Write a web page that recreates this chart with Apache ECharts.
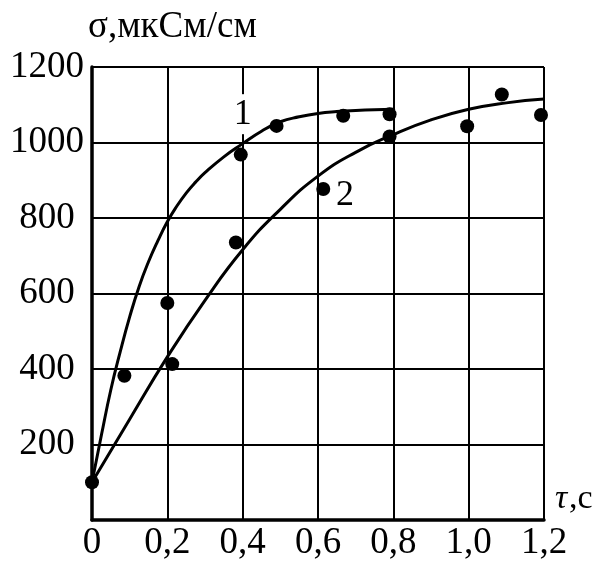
<!DOCTYPE html>
<html>
<head>
<meta charset="utf-8">
<script src="https://cdn.jsdelivr.net/npm/echarts@6/dist/echarts.min.js"></script>
<style>html,body{margin:0;padding:0;background:#fff}#c{width:598px;height:564px}</style>
</head>
<body>
<div id="c"></div>
<script>
// Curve 1
const curve1T = [0, 0.025, 0.05, 0.075, 0.1, 0.125, 0.15, 0.175, 0.2, 0.225, 0.25, 0.275, 0.3, 0.35, 0.4, 0.45, 0.5, 0.55, 0.6, 0.65, 0.7, 0.75, 0.8];
const curve1Y = [100, 225, 345, 446, 538, 618, 684, 740, 790, 831, 866, 895, 920, 962, 997, 1030, 1055, 1068, 1077, 1082, 1085, 1087, 1088];
// Curve 2
const curve2T = [0, 0.1, 0.2, 0.3, 0.4, 0.5, 0.6, 0.7, 0.8, 0.9, 1.0, 1.1, 1.2];
const curve2Y = [100, 267, 432, 582, 716, 823, 911, 974, 1021, 1060, 1088, 1105, 1115];
// Measured points
const points1T = [0, 0.086, 0.2, 0.395, 0.49, 0.667, 0.79];
const points1Y = [100, 382, 575, 968, 1044, 1071, 1075];
const points2T = [0.213, 0.382, 0.614, 0.79, 0.996, 1.088, 1.192];
const points2Y = [413, 735, 877, 1016, 1043, 1127, 1073];
// Curve labels
const labelNames = ['1', '2'];
const labelT = [0.4, 0.672];
const labelY = [1075, 860];

const zip = (a, b) => a.map((v, i) => [v, b[i]]);
const FONT = 'Liberation Serif';

const chart = echarts.init(document.getElementById('c'));
chart.setOption({
  animation: false,
  backgroundColor: '#fff',
  grid: { left: 92, top: 67, right: 54, bottom: 44, containLabel: false },
  xAxis: {
    type: 'value', min: 0, max: 1.2, interval: 0.2,
    axisLine: { show: true, onZero: false, lineStyle: { color: '#000', width: 3.5 } },
    axisTick: { show: false },
    splitLine: { show: true, lineStyle: { color: '#000', width: 2 } },
    axisLabel: {
      color: '#000', fontFamily: FONT, fontSize: 37, margin: 5,
      formatter: v => v === 0 ? '0' : v.toFixed(1).replace('.', ',')
    }
  },
  yAxis: {
    type: 'value', min: 0, max: 1200, interval: 200,
    axisLine: { show: true, onZero: false, lineStyle: { color: '#000', width: 3.5 } },
    axisTick: { show: false },
    splitLine: { show: true, lineStyle: { color: '#000', width: 2 } },
    axisLabel: {
      color: '#000', fontFamily: FONT, fontSize: 37, margin: 45, align: 'center',
      formatter: v => v === 0 ? '' : String(v)
    }
  },
  graphic: [
    { type: 'text', left: 88, top: 9, style: { text: 'σ,мкСм/см', font: '37px "Liberation Serif"', fill: '#000' } },
    { type: 'text', left: 555, top: 482, style: { text: 'τ', font: 'italic 34px "Liberation Serif"', fill: '#000' } },
    { type: 'text', left: 569, top: 482, style: { text: ',c', font: '34px "Liberation Serif"', fill: '#000' } }
  ],
  series: [
    {
      type: 'scatter', z: 1, symbolSize: 0,
      data: labelNames.map((n, i) => [labelT[i], labelY[i], n]),
      itemStyle: { opacity: 1 },
      label: {
        show: true, position: 'inside', formatter: p => p.data[2],
        fontFamily: FONT, fontSize: 36, color: '#000',
        backgroundColor: '#fff', padding: [2, 2, 2, 2]
      }
    },
    {
      type: 'line', z: 3, data: zip(curve1T, curve1Y), showSymbol: false,
      smooth: 0.5,
      lineStyle: { color: '#000', width: 3 }
    },
    {
      type: 'line', z: 3, data: zip(curve2T, curve2Y), showSymbol: false,
      smooth: 0.5,
      lineStyle: { color: '#000', width: 3 }
    },
    {
      type: 'scatter', z: 4, data: zip(points1T, points1Y), symbolSize: 14,
      itemStyle: { color: '#000', opacity: 1 }
    },
    {
      type: 'scatter', z: 4, data: zip(points2T, points2Y), symbolSize: 14,
      itemStyle: { color: '#000', opacity: 1 }
    }
  ]
});
</script>
</body>
</html>
